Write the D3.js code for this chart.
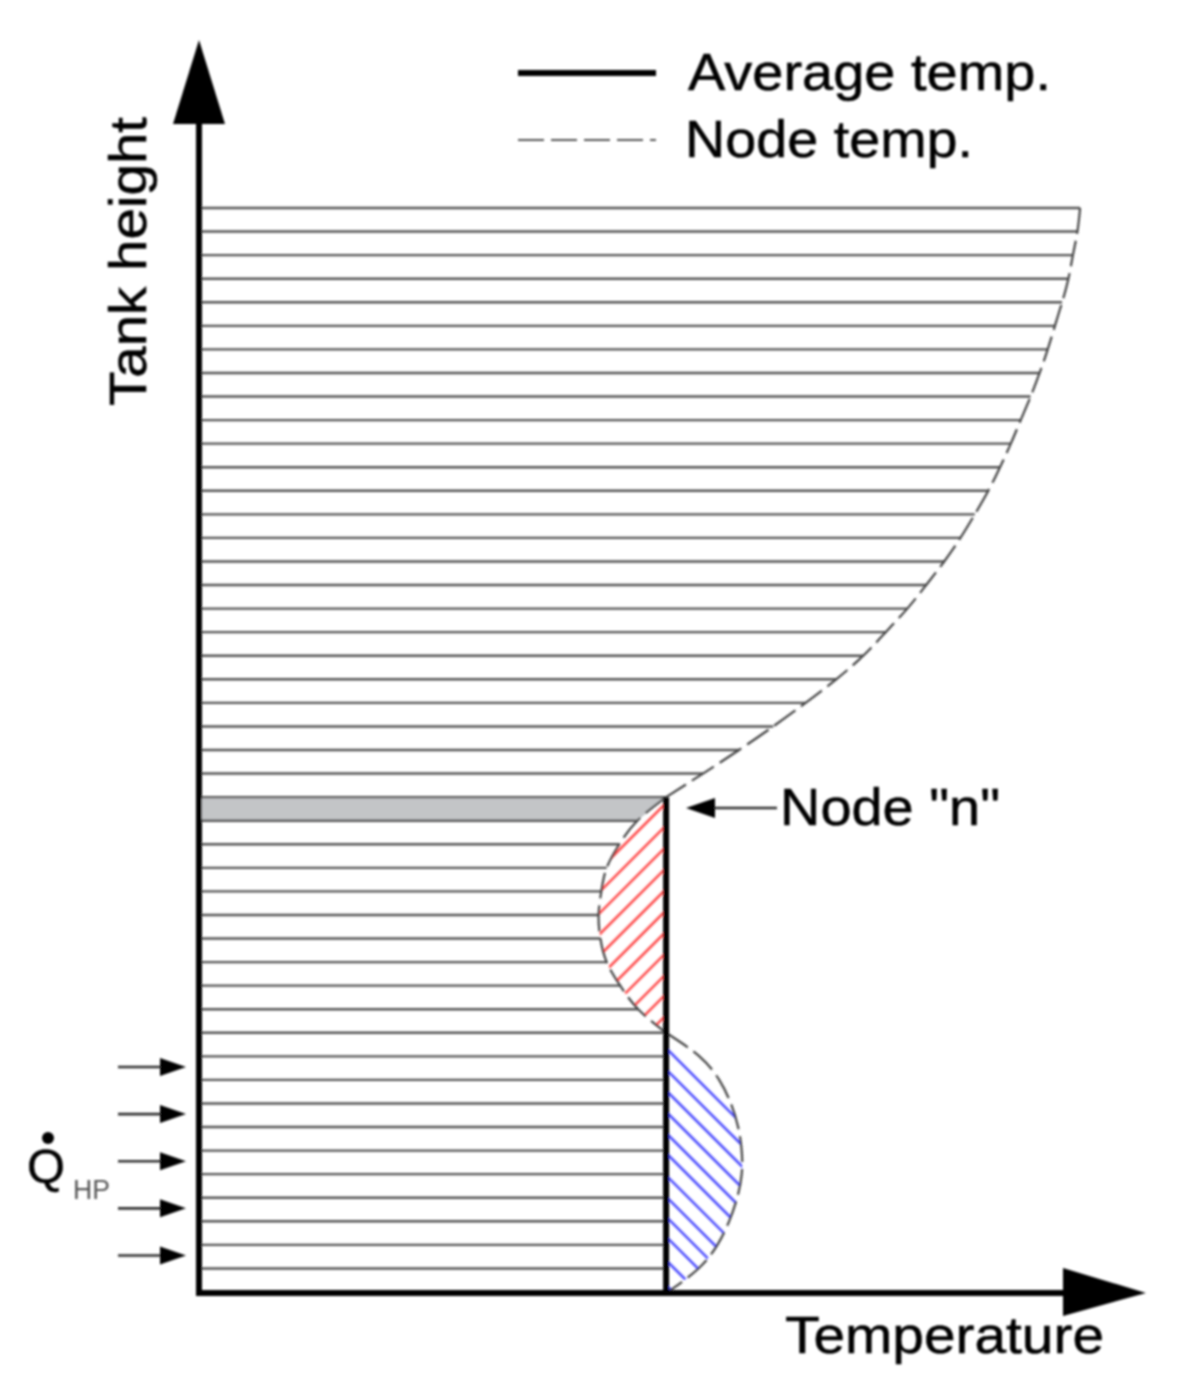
<!DOCTYPE html>
<html><head><meta charset="utf-8">
<script src="https://cdn.jsdelivr.net/npm/d3@7"></script>
<style>html,body{margin:0;background:#fff}svg{display:block}text{font-family:"Liberation Sans",Arial,sans-serif;fill:#000;stroke:#000;stroke-width:.5}</style>
</head><body><svg id="c" width="1180" height="1390"></svg>
<script>
// Node temperature (arbitrary units) from tank top (level 46) to bottom (level 0)
const upperTemps = [97.9,97.6,97.1,96.6,95.9,95.1,94.3,93.4,92.4,91.3,90.2,89.0,87.7,86.2,84.6,82.8,80.8,78.7,76.3,73.8,70.8,67.4,63.8,60.0,56.0,51.9];
const redTemps = [48.7,46.7,45.3,44.7,44.4,44.6,45.3,46.8,48.8,51.9];
const blueTemps = [55.6,57.8,59.1,59.9,60.3,60.3,59.8,58.9,57.6,55.5,52.1];
const averageTemp = 51.9;
const nodeN = 21, crossLevel = 11;
const levelMax = 46;
const hpLevels = [9.55,7.55,5.55,3.55,1.55];
const redHatch = [20.75,19.8,18.9,18.0,17.1,16.2,15.3,14.4,13.5,12.65,11.75];
const blueHatch = [10.35,9.45,8.55,7.65,6.75,5.9,4.95,4.05,3.2,2.35,1.35,0.3];
const legendItems = ["Average temp.","Node temp."];

const nodes = [...upperTemps,...redTemps,...blueTemps].map((t,i)=>({level:levelMax-i,temp:t}));
const x = d3.scaleLinear().domain([0,100]).range([199,1099]);
const y = d3.scaleLinear().domain([0,levelMax]).range([1292,208]);
const svg = d3.select("#c");
const defs = svg.append("defs");
defs.append("filter").attr("id","soft")
  .attr("filterUnits","userSpaceOnUse").attr("x",0).attr("y",0).attr("width",1180).attr("height",1390)
  .append("feGaussianBlur").attr("stdDeviation",0.9);
const g = svg.append("g").attr("filter","url(#soft)");

const curve = d3.curveNatural;
const area = d3.area().curve(curve).x0(x(averageTemp)).x1(d=>x(d.temp)).y(d=>y(d.level));
const upperNodes = nodes.filter(d=>d.level>=nodeN);
const redNodes = nodes.filter(d=>d.level<=nodeN&&d.level>=crossLevel);
const blueNodes = nodes.filter(d=>d.level<=crossLevel);
defs.append("clipPath").attr("id","redClip").append("path").attr("d",area(redNodes));
defs.append("clipPath").attr("id","blueClip").append("path").attr("d",area(blueNodes));

// Highlighted node
const grayNodes = nodes.filter(d=>d.level<=nodeN&&d.level>=nodeN-1);
g.append("path").attr("fill","#c3c5c7")
  .attr("d",d3.area().x0(x(0)).x1(d=>x(d.temp)).y(d=>y(d.level))(grayNodes));

// Node lines
g.append("g").selectAll("line").data(nodes.filter(d=>d.level>0)).join("line")
  .attr("x1",x(0)).attr("x2",d=>x(d.level<crossLevel?averageTemp:d.temp))
  .attr("y1",d=>y(d.level)).attr("y2",d=>y(d.level))
  .attr("stroke","#555").attr("stroke-width",2.4);

// Hatching
const hatch=(levels,id,color,dir)=>g.append("g").attr("clip-path",`url(#${id})`)
  .selectAll("line").data(levels).join("line")
  .attr("x1",x(averageTemp)).attr("y1",d=>y(d))
  .attr("x2",x(averageTemp+dir*12)).attr("y2",d=>y(d)+108)
  .attr("stroke",color).attr("stroke-width",2.6);
hatch(redHatch,"redClip","#ff4f4f",-1);
hatch(blueHatch,"blueClip","#4f4fff",1);

// Profile: three separate arcs meeting at the average line
const profile = d3.line().curve(curve).x(d=>x(d.temp)).y(d=>y(d.level));
g.append("g").selectAll("path").data([upperNodes,redNodes,blueNodes]).join("path")
  .attr("d",profile).attr("fill","none").attr("stroke","#444").attr("stroke-width",2.2).attr("stroke-dasharray","26 7");

// Average line
g.append("line").attr("x1",x(averageTemp)).attr("x2",x(averageTemp)).attr("y1",y(nodeN)).attr("y2",y(0))
  .attr("stroke","#000").attr("stroke-width",6);

// Axes
const axY = y(0)+1;
g.append("line").attr("x1",x(0)).attr("x2",x(0)).attr("y1",axY+3).attr("y2",120).attr("stroke","#000").attr("stroke-width",6);
g.append("line").attr("x1",x(0)).attr("x2",1070).attr("y1",axY).attr("y2",axY).attr("stroke","#000").attr("stroke-width",6);
g.append("path").attr("d",d3.line()([[x(0),40],[x(0)-26,124],[x(0)+26,124]])+"Z").attr("fill","#000");
g.append("path").attr("d",d3.line()([[1146,axY],[1063,axY-25],[1063,axY+23]])+"Z").attr("fill","#000");

// HP arrows
const hp=g.append("g").selectAll("g").data(hpLevels).join("g");
hp.append("line").attr("x1",118).attr("x2",165).attr("y1",d=>y(d)).attr("y2",d=>y(d)).attr("stroke","#333").attr("stroke-width",2.6);
hp.append("path").attr("d",d=>d3.line()([[186,y(d)],[160,y(d)-9],[160,y(d)+9]])+"Z").attr("fill","#000");

// Node n arrow
const ny=y(20.54);
g.append("line").attr("x1",777).attr("x2",712).attr("y1",ny).attr("y2",ny).attr("stroke","#333").attr("stroke-width",2.6);
g.append("path").attr("d",d3.line()([[686,ny],[715,ny-10],[715,ny+10]])+"Z").attr("fill","#000");

// Legend
g.append("line").attr("x1",518).attr("x2",656).attr("y1",73).attr("y2",73).attr("stroke","#000").attr("stroke-width",6);
g.append("line").attr("x1",518).attr("x2",656).attr("y1",140).attr("y2",140).attr("stroke","#555").attr("stroke-width",2).attr("stroke-dasharray","26 7");
const txt=(s,px,py,size,len)=>g.append("text").text(s).attr("x",px).attr("y",py).attr("font-size",size)
  .attr("textLength",len).attr("lengthAdjust","spacingAndGlyphs");
txt(legendItems[0],688,90,52,363);
txt(legendItems[1],685,157,52,288);
txt('Node "n"',780,825,52,220);
txt("Temperature",785,1353,52,319);
g.append("text").text("Tank height").attr("transform","translate(146,406) rotate(-90)").attr("font-size",52)
  .attr("textLength",289).attr("lengthAdjust","spacingAndGlyphs");
txt("Q",27,1183,48,38);
g.append("circle").attr("cx",48).attr("cy",1138).attr("r",6).attr("fill","#000");
txt("HP",73,1199,27,37).style("fill","#555").style("stroke","none");
</script></body></html>
